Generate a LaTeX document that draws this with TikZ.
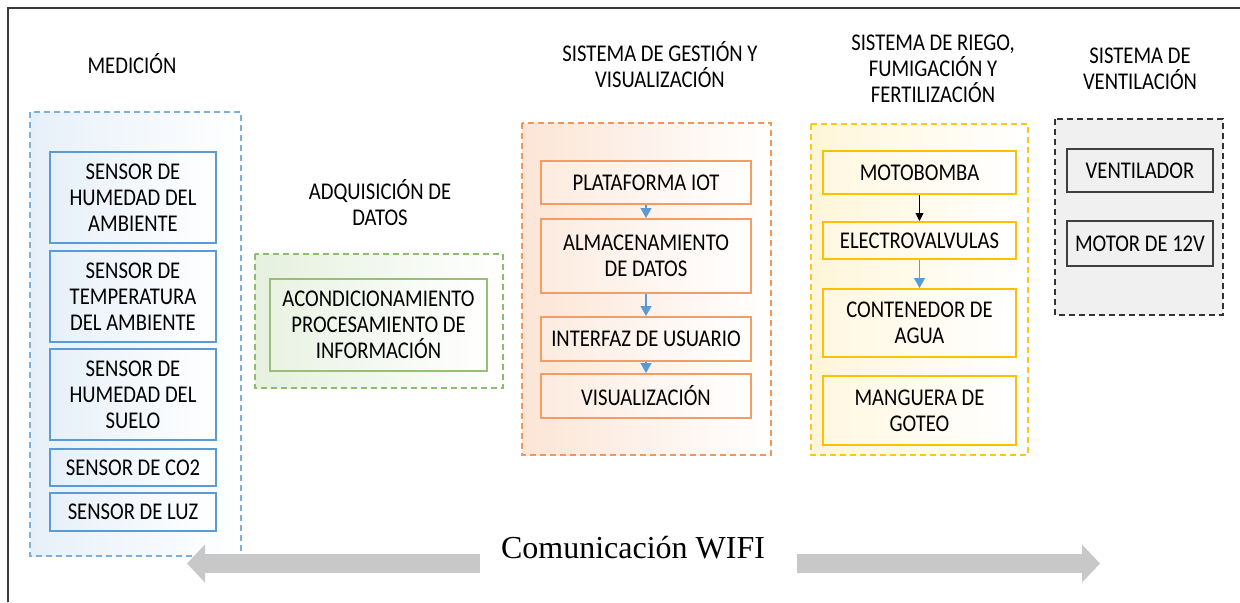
\documentclass[tikz,border=0pt]{standalone}
\usepackage{fontspec}
\setmainfont[FakeStretch=0.86]{Carlito}
\newfontfamily\wififont{Liberation Serif}
\usetikzlibrary{arrows.meta}

\definecolor{azul}{HTML}{5B9BD5}
\definecolor{naranja}{HTML}{ED7D31}
\definecolor{verde}{HTML}{70AD47}
\definecolor{amarillo}{HTML}{FFC000}
\definecolor{marco}{HTML}{3A3A3A}
\definecolor{flechagris}{HTML}{C8C8C8}

\tikzset{
  caja/.style={draw,line width=1pt,align=center,inner sep=0pt,font=\fontsize{12}{13}\selectfont},
  grupo/.style={dashed,dash pattern=on 3pt off 2pt,line width=0.8pt},
  titulo/.style={align=center,font=\fontsize{12}{13}\selectfont},
  flechita/.style={-{Triangle[length=5pt,width=5.5pt]},line width=0.6pt}
}

\begin{document}
\begin{tikzpicture}[x=0.5pt,y=-0.5pt]
  \useasboundingbox (0,0) rectangle (1240,602);
  % marco
  \draw[marco,line width=0.7pt] (8,602) -- (8,8) -- (1240,8);

  % grupos
  \path[grupo,draw=azul!80,left color=azul!15,right color=white] (30,112) rectangle (241,556);
  \path[grupo,draw=verde!80,left color=verde!18,right color=white] (255,254) rectangle (503,388);
  \path[grupo,draw=naranja!80,left color=naranja!20,right color=white] (522,123) rectangle (771,455);
  \path[grupo,draw=amarillo!90,left color=amarillo!15,right color=white] (811,124) rectangle (1028,455);
  \path[grupo,draw=black!80,fill=black!6] (1055,119) rectangle (1223,315);

  % titulos
  \node[titulo] (tmed) at (132,64) {MEDICIÓN};
  \node[titulo] (tadq) at (380,202.5) {ADQUISICIÓN DE\\DATOS};
  \node[titulo] (tges) at (660,64.5) {SISTEMA DE GESTIÓN Y\\VISUALIZACIÓN};
  \node[titulo] (trie) at (933,68.5) {SISTEMA DE RIEGO,\\FUMIGACIÓN Y\\FERTILIZACIÓN};
  \node[titulo] (tven) at (1140,69) {SISTEMA DE\\VENTILACIÓN};

  % medicion
  \begin{scope}[every node/.style={caja,draw=azul,left color=azul!15,right color=white,minimum width=83pt}]
    \node[minimum height=45.5pt] (s1) at (133,197.5) {SENSOR DE\\HUMEDAD DEL\\AMBIENTE};
    \node[minimum height=45.5pt] (s2) at (133,296.5) {SENSOR DE\\TEMPERATURA\\DEL AMBIENTE};
    \node[minimum height=45.5pt] (s3) at (133,394.5) {SENSOR DE\\HUMEDAD DEL\\SUELO};
    \node[minimum height=18.5pt] (s4) at (133,467.5) {SENSOR DE CO2};
    \node[minimum height=19pt] (s5) at (133,512) {SENSOR DE LUZ};
  \end{scope}

  % adquisicion
  \node[caja,draw=verde!75,left color=verde!15,right color=white,minimum width=108.5pt,minimum height=46pt]
    (acond) at (378.5,325) {ACONDICIONAMIENTO\\PROCESAMIENTO DE\\INFORMACIÓN};

  % gestion y visualizacion
  \begin{scope}[every node/.style={caja,draw=naranja!75,left color=naranja!15,right color=white,minimum width=105pt}]
    \node[minimum height=21.5pt] (plat) at (646,182.5) {PLATAFORMA IOT};
    \node[minimum height=37pt] (alm) at (646,256) {ALMACENAMIENTO\\DE DATOS};
    \node[minimum height=22pt] (intf) at (646,339) {INTERFAZ DE USUARIO};
    \node[minimum height=22pt] (visu) at (646,396) {VISUALIZACIÓN};
  \end{scope}
  \draw[flechita,azul] (plat) -- (alm);
  \draw[flechita,azul] (alm) -- (intf);
  \draw[flechita,azul] (intf) -- (visu);

  % riego
  \begin{scope}[every node/.style={caja,draw=amarillo,left color=amarillo!12,right color=white,minimum width=96.5pt}]
    \node[minimum height=21.5pt] (moto) at (919.5,172.5) {MOTOBOMBA};
    \node[minimum height=18.5pt] (elec) at (919.5,240.5) {ELECTROVALVULAS};
    \node[minimum height=34pt] (cont) at (919.5,323) {CONTENEDOR DE\\AGUA};
    \node[minimum height=34.5pt] (mang) at (919.5,410.5) {MANGUERA DE\\GOTEO};
  \end{scope}
  \draw[-{Triangle[length=4pt,width=4pt]},line width=0.4pt] (moto) -- (elec);
  \draw[flechita,azul] (elec) -- (cont);

  % ventilacion
  \begin{scope}[every node/.style={caja,draw=black!75,fill=black!6,minimum width=73pt}]
    \node[minimum height=21.5pt] (vent) at (1140,170.5) {VENTILADOR};
    \node[minimum height=22.5pt] (motor) at (1140,243.5) {MOTOR DE 12V};
  \end{scope}

  % comunicacion
  \node[font=\wififont\fontsize{16}{18}\selectfont] (wifi) at (633,548) {Comunicación WIFI};
  \coordinate (izq0) at (480,563.5);
  \coordinate (izq1) at (187,563.5);
  \coordinate (der0) at (797,563.5);
  \coordinate (der1) at (1100,563.5);
  \draw[flechagris,line width=9.5pt,-{Triangle[length=9pt,width=18.5pt]}] (izq0) -- (izq1);
  \draw[flechagris,line width=9.5pt,-{Triangle[length=9pt,width=18.5pt]}] (der0) -- (der1);
\end{tikzpicture}
\end{document}
